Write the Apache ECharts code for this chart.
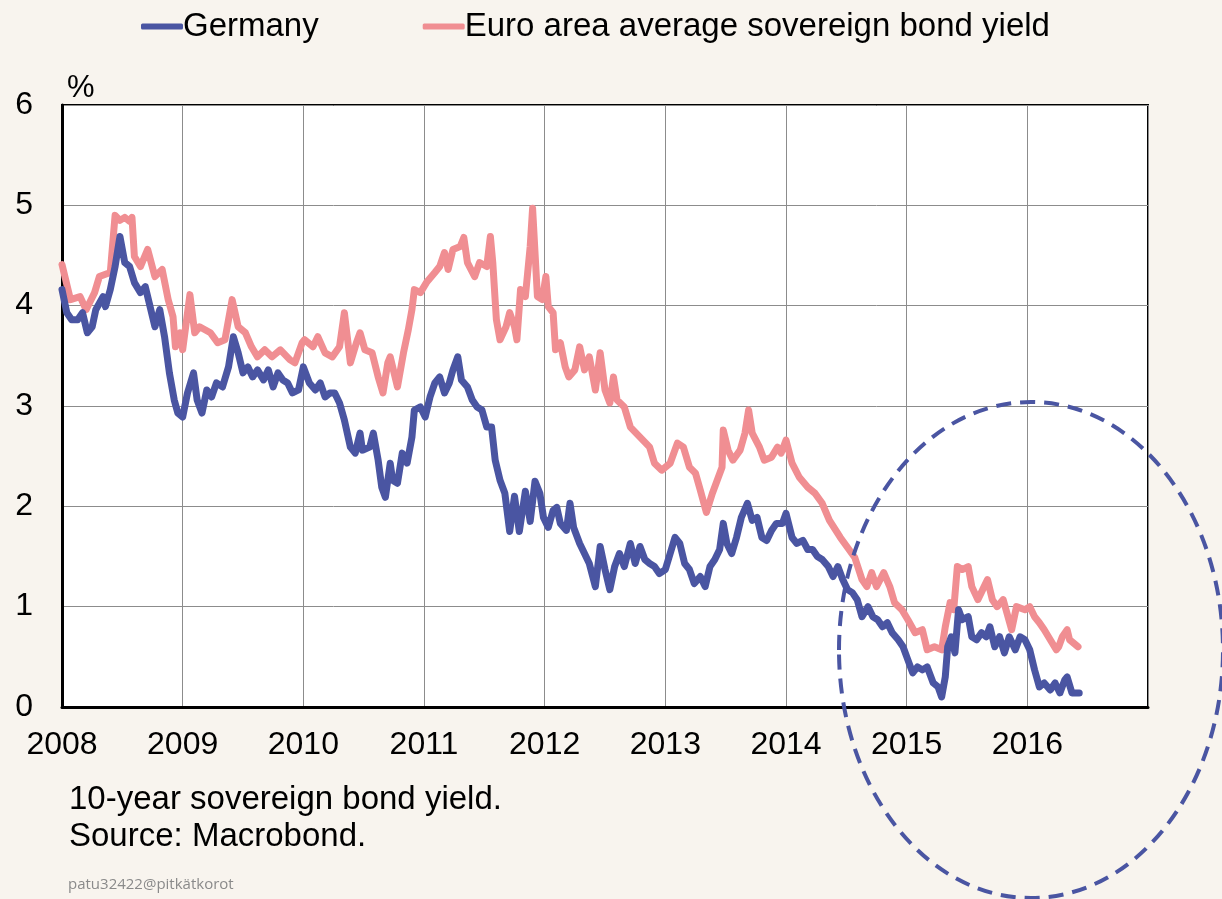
<!DOCTYPE html>
<html>
<head>
<meta charset="utf-8">
<script src="https://cdn.jsdelivr.net/npm/echarts@6/dist/echarts.min.js"></script>
<style>
  html, body { margin: 0; padding: 0; background: #f8f4ee; }
  #chart { width: 1222px; height: 899px; }
</style>
</head>
<body>
<div id="chart"></div>
<script>
const FONT = '"Liberation Sans", Arial, sans-serif';
const BLUE = '#4a55a2';
const PINK = '#f08e92';

const seriesNames = ['Germany', 'Euro area average sovereign bond yield'];
const yearTicks = [2008, 2009, 2010, 2011, 2012, 2013, 2014, 2015, 2016];

// [decimal year, yield %]
const germany = [
  [2008.00, 4.16], [2008.04, 3.93], [2008.08, 3.86], [2008.13, 3.86], [2008.17, 3.93],
  [2008.21, 3.73], [2008.25, 3.79], [2008.28, 3.96], [2008.34, 4.09], [2008.36, 3.99],
  [2008.40, 4.16], [2008.44, 4.39], [2008.48, 4.69], [2008.52, 4.43], [2008.56, 4.39],
  [2008.60, 4.23], [2008.65, 4.13], [2008.69, 4.19], [2008.73, 3.99], [2008.77, 3.79],
  [2008.81, 3.96], [2008.85, 3.69], [2008.89, 3.33], [2008.93, 3.06], [2008.96, 2.93],
  [2009.00, 2.89], [2009.04, 3.13], [2009.09, 3.33], [2009.12, 3.06], [2009.16, 2.93],
  [2009.20, 3.16], [2009.24, 3.09], [2009.28, 3.23], [2009.33, 3.19], [2009.38, 3.39],
  [2009.42, 3.69], [2009.46, 3.53], [2009.50, 3.33], [2009.54, 3.39], [2009.58, 3.29],
  [2009.62, 3.36], [2009.67, 3.26], [2009.71, 3.36], [2009.75, 3.19], [2009.79, 3.33],
  [2009.83, 3.26], [2009.87, 3.23], [2009.91, 3.13], [2009.96, 3.16], [2010.00, 3.39],
  [2010.05, 3.23], [2010.10, 3.16], [2010.14, 3.23], [2010.18, 3.09], [2010.22, 3.13],
  [2010.26, 3.13], [2010.30, 3.03], [2010.34, 2.86], [2010.39, 2.59], [2010.43, 2.53],
  [2010.47, 2.73], [2010.49, 2.56], [2010.55, 2.59], [2010.58, 2.73], [2010.62, 2.46],
  [2010.65, 2.19], [2010.68, 2.09], [2010.72, 2.43], [2010.74, 2.26], [2010.78, 2.23],
  [2010.82, 2.53], [2010.86, 2.43], [2010.90, 2.69], [2010.92, 2.96], [2010.97, 2.99],
  [2011.01, 2.89], [2011.05, 3.09], [2011.09, 3.23], [2011.13, 3.29], [2011.17, 3.13],
  [2011.21, 3.23], [2011.24, 3.36], [2011.28, 3.49], [2011.31, 3.26], [2011.36, 3.19],
  [2011.40, 3.06], [2011.44, 2.99], [2011.48, 2.96], [2011.52, 2.79], [2011.56, 2.79],
  [2011.59, 2.46], [2011.63, 2.26], [2011.67, 2.13], [2011.71, 1.75], [2011.75, 2.10],
  [2011.79, 1.75], [2011.84, 2.15], [2011.88, 1.85], [2011.92, 2.25], [2011.96, 2.13],
  [2011.99, 1.89], [2012.03, 1.79], [2012.07, 1.96], [2012.10, 1.99], [2012.13, 1.83],
  [2012.18, 1.76], [2012.21, 2.03], [2012.24, 1.79], [2012.29, 1.63], [2012.33, 1.53],
  [2012.37, 1.43], [2012.42, 1.20], [2012.46, 1.60], [2012.50, 1.37], [2012.54, 1.17],
  [2012.58, 1.40], [2012.62, 1.53], [2012.66, 1.40], [2012.71, 1.63], [2012.75, 1.43],
  [2012.79, 1.60], [2012.83, 1.47], [2012.87, 1.43], [2012.91, 1.40], [2012.95, 1.33],
  [2013.00, 1.37], [2013.04, 1.53], [2013.08, 1.69], [2013.12, 1.63], [2013.16, 1.43],
  [2013.20, 1.37], [2013.24, 1.23], [2013.29, 1.30], [2013.33, 1.20], [2013.37, 1.40],
  [2013.41, 1.47], [2013.45, 1.57], [2013.48, 1.83], [2013.51, 1.63], [2013.55, 1.53],
  [2013.59, 1.69], [2013.63, 1.89], [2013.68, 2.03], [2013.72, 1.86], [2013.76, 1.89],
  [2013.80, 1.69], [2013.84, 1.66], [2013.88, 1.76], [2013.92, 1.83], [2013.97, 1.83],
  [2014.00, 1.93], [2014.05, 1.69], [2014.09, 1.63], [2014.14, 1.66], [2014.18, 1.57],
  [2014.22, 1.57], [2014.26, 1.50], [2014.30, 1.47], [2014.35, 1.40], [2014.39, 1.30],
  [2014.43, 1.40], [2014.47, 1.27], [2014.51, 1.17], [2014.55, 1.14], [2014.59, 1.07],
  [2014.63, 0.90], [2014.68, 1.00], [2014.72, 0.90], [2014.76, 0.87], [2014.80, 0.80],
  [2014.84, 0.84], [2014.88, 0.74], [2014.93, 0.67], [2014.97, 0.60], [2015.01, 0.47],
  [2015.05, 0.34], [2015.09, 0.40], [2015.13, 0.37], [2015.17, 0.40], [2015.22, 0.24],
  [2015.26, 0.20], [2015.29, 0.10], [2015.32, 0.30], [2015.34, 0.60], [2015.37, 0.70],
  [2015.40, 0.54], [2015.43, 0.97], [2015.46, 0.87], [2015.51, 0.90], [2015.54, 0.70],
  [2015.58, 0.67], [2015.62, 0.74], [2015.66, 0.70], [2015.69, 0.80], [2015.73, 0.60],
  [2015.77, 0.70], [2015.81, 0.54], [2015.85, 0.70], [2015.90, 0.57], [2015.94, 0.70],
  [2015.98, 0.67], [2016.02, 0.57], [2016.06, 0.37], [2016.10, 0.20], [2016.14, 0.24],
  [2016.19, 0.17], [2016.23, 0.24], [2016.27, 0.14], [2016.31, 0.27], [2016.33, 0.30],
  [2016.37, 0.14], [2016.43, 0.14]
];

const euroArea = [
  [2008.00, 4.41], [2008.07, 4.06], [2008.15, 4.09], [2008.20, 3.96], [2008.27, 4.13],
  [2008.31, 4.29], [2008.40, 4.33], [2008.44, 4.90], [2008.48, 4.85], [2008.52, 4.88],
  [2008.56, 4.84], [2008.58, 4.88], [2008.60, 4.49], [2008.65, 4.39], [2008.71, 4.56],
  [2008.77, 4.29], [2008.83, 4.36], [2008.88, 4.06], [2008.92, 3.89], [2008.94, 3.59],
  [2008.98, 3.73], [2009.00, 3.56], [2009.06, 4.11], [2009.10, 3.73], [2009.14, 3.79],
  [2009.23, 3.73], [2009.29, 3.63], [2009.35, 3.66], [2009.41, 4.06], [2009.46, 3.79],
  [2009.52, 3.73], [2009.57, 3.59], [2009.62, 3.49], [2009.68, 3.56], [2009.74, 3.49],
  [2009.81, 3.56], [2009.89, 3.46], [2009.93, 3.43], [2009.99, 3.63], [2010.01, 3.66],
  [2010.08, 3.59], [2010.12, 3.69], [2010.18, 3.53], [2010.24, 3.49], [2010.30, 3.59],
  [2010.34, 3.93], [2010.39, 3.43], [2010.44, 3.63], [2010.47, 3.73], [2010.51, 3.56],
  [2010.57, 3.53], [2010.62, 3.29], [2010.66, 3.13], [2010.70, 3.43], [2010.72, 3.49],
  [2010.78, 3.19], [2010.83, 3.53], [2010.87, 3.76], [2010.90, 3.96], [2010.92, 4.16],
  [2010.97, 4.13], [2011.02, 4.23], [2011.09, 4.33], [2011.13, 4.39], [2011.17, 4.53],
  [2011.20, 4.36], [2011.24, 4.56], [2011.30, 4.59], [2011.33, 4.68], [2011.36, 4.43],
  [2011.42, 4.29], [2011.46, 4.43], [2011.52, 4.39], [2011.55, 4.69], [2011.57, 4.43],
  [2011.60, 3.86], [2011.63, 3.66], [2011.68, 3.79], [2011.71, 3.93], [2011.75, 3.79],
  [2011.77, 3.66], [2011.80, 4.16], [2011.84, 4.09], [2011.88, 4.59], [2011.90, 4.97],
  [2011.94, 4.09], [2011.98, 4.06], [2012.01, 4.29], [2012.03, 3.99], [2012.07, 3.93],
  [2012.09, 3.56], [2012.13, 3.63], [2012.17, 3.39], [2012.20, 3.29], [2012.25, 3.36],
  [2012.29, 3.59], [2012.33, 3.36], [2012.37, 3.49], [2012.42, 3.16], [2012.46, 3.53],
  [2012.50, 3.16], [2012.54, 3.03], [2012.57, 3.29], [2012.60, 3.06], [2012.66, 2.99],
  [2012.71, 2.79], [2012.79, 2.69], [2012.87, 2.59], [2012.91, 2.43], [2012.97, 2.36],
  [2013.04, 2.43], [2013.10, 2.63], [2013.15, 2.59], [2013.20, 2.39], [2013.25, 2.33],
  [2013.29, 2.16], [2013.34, 1.94], [2013.39, 2.13], [2013.43, 2.26], [2013.47, 2.39],
  [2013.48, 2.76], [2013.52, 2.56], [2013.56, 2.46], [2013.62, 2.56], [2013.66, 2.73],
  [2013.69, 2.96], [2013.72, 2.73], [2013.78, 2.59], [2013.82, 2.46], [2013.88, 2.49],
  [2013.93, 2.59], [2013.96, 2.53], [2014.00, 2.66], [2014.05, 2.43], [2014.11, 2.29],
  [2014.18, 2.19], [2014.24, 2.13], [2014.30, 2.03], [2014.36, 1.86], [2014.45, 1.69],
  [2014.51, 1.59], [2014.57, 1.49], [2014.63, 1.27], [2014.67, 1.20], [2014.71, 1.34],
  [2014.75, 1.20], [2014.81, 1.34], [2014.86, 1.20], [2014.90, 1.04], [2014.96, 0.97],
  [2015.01, 0.87], [2015.07, 0.74], [2015.13, 0.77], [2015.17, 0.57], [2015.23, 0.60],
  [2015.29, 0.57], [2015.32, 0.80], [2015.36, 1.04], [2015.39, 0.97], [2015.42, 1.40],
  [2015.46, 1.37], [2015.51, 1.40], [2015.54, 1.20], [2015.59, 1.07], [2015.63, 1.17],
  [2015.67, 1.27], [2015.71, 1.07], [2015.75, 1.00], [2015.80, 1.07], [2015.83, 0.94],
  [2015.87, 0.77], [2015.91, 1.00], [2015.98, 0.97], [2016.02, 1.00], [2016.06, 0.90],
  [2016.10, 0.84], [2016.14, 0.77], [2016.19, 0.67], [2016.24, 0.57], [2016.26, 0.60],
  [2016.29, 0.70], [2016.33, 0.77], [2016.35, 0.67], [2016.42, 0.60]
];

const chart = echarts.init(document.getElementById('chart'));

chart.setOption({
  backgroundColor: '#f8f4ee',
  animation: false,
  textStyle: { fontFamily: FONT, color: '#000' },
  legend: {
    left: 136,
    top: 5,
    data: seriesNames,
    itemWidth: 42,
    itemHeight: 6,
    itemGap: 104,
    icon: 'roundRect',
    textStyle: { fontSize: 33, fontFamily: FONT, color: '#000', padding: [0, 0, 0, -5] }
  },
  grid: {
    left: 62,
    right: 74,
    top: 105,
    bottom: 192,
    show: true,
    backgroundColor: '#fff',
    borderColor: '#000',
    borderWidth: 2
  },
  xAxis: {
    type: 'value',
    min: 2008,
    max: 2017,
    interval: 1,
    axisLine: { show: true, lineStyle: { color: '#000', width: 3 } },
    axisTick: { show: false },
    splitLine: { show: true, lineStyle: { color: '#8c8c8c', width: 1 } },
    axisLabel: {
      margin: 22,
      fontSize: 32,
      fontFamily: FONT,
      color: '#000',
      formatter: (v) => (yearTicks.includes(v) ? String(v) : '')
    }
  },
  yAxis: {
    type: 'value',
    min: 0,
    max: 6,
    interval: 1,
    axisLine: { show: true, lineStyle: { color: '#000', width: 3 } },
    axisTick: { show: false },
    splitLine: { show: true, lineStyle: { color: '#8c8c8c', width: 1 } },
    axisLabel: { margin: 29, fontSize: 32, fontFamily: FONT, color: '#000' }
  },
  series: [
    {
      name: seriesNames[1],
      type: 'line',
      data: euroArea,
      showSymbol: false,
      symbol: 'none',
      color: PINK,
      lineStyle: { color: PINK, width: 7, cap: 'round', join: 'round' },
      z: 2
    },
    {
      name: seriesNames[0],
      type: 'line',
      data: germany,
      showSymbol: false,
      symbol: 'none',
      color: BLUE,
      lineStyle: { color: BLUE, width: 7, cap: 'round', join: 'round' },
      z: 3
    }
  ],
  graphic: [
    {
      type: 'text',
      left: 67,
      top: 73,
      style: { text: '%', fontSize: 31, fontFamily: FONT, fill: '#000' }
    },
    {
      type: 'text',
      left: 69,
      top: 781,
      style: {
        text: '10-year sovereign bond yield.\nSource: Macrobond.',
        fontSize: 33,
        lineHeight: 37,
        fontFamily: FONT,
        fill: '#000'
      }
    },
    {
      type: 'text',
      left: 68,
      top: 877,
      style: { text: 'patu32422@pitkätkorot', fontSize: 15, fontFamily: '"Open Sans", sans-serif', fill: '#8a8a8a' }
    },
    {
      type: 'ellipse',
      z: 100,
      shape: { cx: 1031, cy: 650, rx: 192, ry: 248 },
      style: { fill: null, stroke: BLUE, lineWidth: 4, lineDash: [15, 9] }
    }
  ]
});
</script>
</body>
</html>
